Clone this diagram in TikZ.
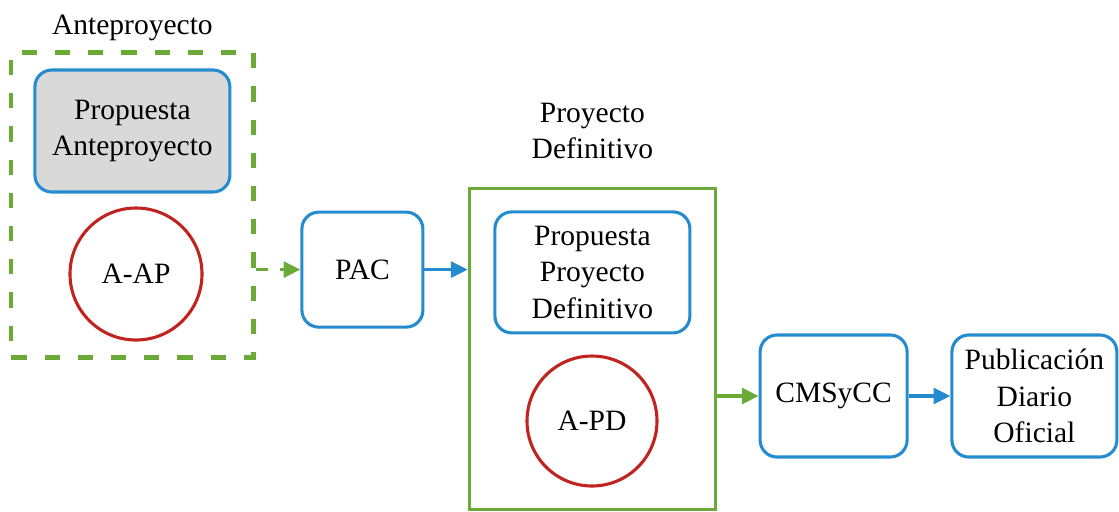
\documentclass[tikz,border=0pt]{standalone}
\usepackage{fontspec}
\setmainfont{Liberation Serif}
\usetikzlibrary{arrows.meta,fit}
\definecolor{procblue}{RGB}{36,140,206}
\definecolor{stagegreen}{RGB}{108,170,56}
\definecolor{actred}{RGB}{192,36,32}
\tikzset{
    procbox/.style={draw=procblue, line width=2.2pt, rounded corners=12pt,
        align=center, fill=white, inner sep=2pt},
    actcircle/.style={draw=actred, circle, line width=2.2pt, inner sep=0pt,
        minimum size=3.3cm, align=center},
    flowarrow/.style={-{Triangle[length=4.2mm,width=4mm]}, line width=2.2pt},
    stagebox/.style={draw=stagegreen, line width=2.4pt}
}
\begin{document}
\begin{tikzpicture}[font=\fontsize{21}{26}\selectfont]
        \useasboundingbox (0,0) rectangle (27.975,-12.775);

        \node[procbox, fill=black!15, minimum width=4.875cm, minimum height=3.05cm]
            (propAP) at (3.31,-3.275) {Propuesta\\Anteproyecto};
        \node[actcircle] (aap) at (3.4,-6.85) {A-AP};
        \node[procbox, minimum width=3.025cm, minimum height=2.875cm]
            (pac) at (9.06,-6.74) {PAC};
        \node[procbox, minimum width=4.875cm, minimum height=3.025cm]
            (propPD) at (14.81,-6.81) {Propuesta\\Proyecto\\Definitivo};
        \node[actcircle, minimum size=3.25cm] (apd) at (14.8,-10.525) {A-PD};
        \node[procbox, minimum width=3.675cm, minimum height=3.05cm]
            (cms) at (20.84,-9.9) {CMSyCC};
        \node[procbox, minimum width=4.125cm, minimum height=3.05cm]
            (pub) at (25.86,-9.9) {Publicación\\Diario\\Oficial};

        \node[stagebox, line width=3pt, dash pattern=on 0.38cm off 0.45cm,
            fit=(propAP)(aap), inner xsep=0.55cm, inner ysep=0.4cm,
            label={[yshift=3pt]above:Anteproyecto}] (anteBox) {};
        \node[stagebox, fit=(propPD)(apd), inner xsep=0.6cm, inner ysep=0.55cm,
            label={[align=center, yshift=16pt]above:Proyecto\\Definitivo}] (pdBox) {};

        \draw[flowarrow, stagegreen, dash pattern=on 0.3cm off 0.3cm]
            (anteBox.east |- pac.west) -- (pac.west);
        \draw[flowarrow, procblue] (pac.east) -- (pac.east -| pdBox.west);
        \draw[flowarrow, stagegreen] (pdBox.east |- cms.west) -- (cms.west);
        \draw[flowarrow, procblue] (cms) -- (pub);
    \end{tikzpicture}
\end{document}
